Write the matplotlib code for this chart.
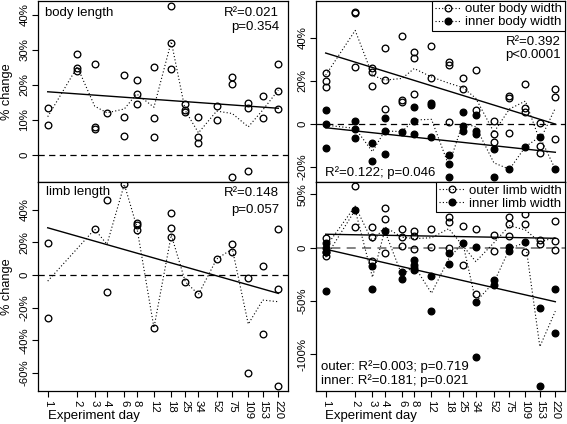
import numpy as np
import matplotlib.pyplot as plt

plt.rcParams['font.family'] = ['Liberation Sans', 'DejaVu Sans']
plt.rcParams['font.size'] = 9.5
plt.rcParams['xtick.labelsize'] = 8.2
plt.rcParams['ytick.labelsize'] = 8.2

days = [1, 2, 3, 4, 6, 8, 12, 18, 25, 34, 52, 75, 109, 153, 220]

# body length
bl_day = [1, 1, 2, 2, 2, 3, 3, 3, 4, 6, 6, 6, 8, 8, 8, 12, 12, 12, 18, 18, 18,
          25, 25, 25, 34, 34, 34, 52, 52, 75, 75, 75, 109, 109, 109, 153, 153,
          220, 220, 220]
bl_val = [13.5, 8.5, 28.9, 24.8, 23.9, 26.0, 8.0, 7.4, 12.0, 22.9, 10.7, 5.5,
          21.3, 17.4, 14.4, 25.1, 10.4, 5.0, 42.3, 32.0, 24.6, 14.4, 12.8, 12.1,
          10.7, 5.0, 3.5, 13.9, 9.9, 22.2, 20.1, -6.2, 14.7, 13.5, -4.5, 16.9,
          10.4, 26.0, 18.3, 13.2]
bl_mean_day = days
bl_mean = [10.9, 25.1, 13.9, 12.0, 13.1, 17.4, 13.6, 32.3, 12.6, 6.3, 12.5,
           11.8, 8.0, 12.8, 18.5]
bl_fit = [18.0, 13.3]

# limb length
ll_day = [1, 1, 3, 4, 4, 6, 8, 8, 8, 12, 18, 18, 18, 25, 34, 52, 75, 75,
          109, 109, 153, 153, 220, 220, 220]
ll_val = [19.4, -26.5, 28.0, 45.9, -10.2, 55.5, 32.0, 30.6, 27.5, -32.2, 37.7,
          28.9, 23.4, -4.1, -11.8, 9.8, 18.8, 14.3, -2.0, -59.7, 5.5, -36.3,
          28.0, -8.6, -67.9]
ll_mean_day = [1, 3, 4, 6, 8, 12, 18, 25, 34, 52, 75, 109, 153, 220]
ll_mean = [-3.7, 28.0, 18.8, 55.5, 30.0, -32.2, 24.5, -4.1, -11.8, 9.8, 16.0,
           -30.0, -15.3, -16.3]
ll_fit = [28.9, -11.2]

# outer / inner body width
obw_day = [1, 1, 1, 2, 2, 2, 3, 3, 3, 4, 4, 4, 6, 6, 6, 8, 8, 8, 12, 12, 18,
           18, 18, 25, 25, 34, 34, 52, 52, 52, 75, 75, 75, 109, 109, 109, 153,
           153, 153, 220, 220, 220]
obw_val = [23.5, 19.9, 17.0, 52.0, 51.6, 26.5, 26.2, 24.2, 17.6, 35.3, 20.4,
           6.8, 40.9, 11.4, 10.3, 33.5, 30.9, 13.9, 36.1, 21.6, 28.8, 27.3, 0.8,
           21.4, 16.5, 25.0, 6.5, 1.5, -4.8, -8.2, 13.0, 12.2, -4.3, 18.8, 7.5,
           5.7, 0.6, -10.2, -13.6, 16.5, 12.6, -6.9]
obw_mean = [22.7, 43.5, 22.7, 20.4, 21.2, 25.8, 21.9, 19.0, 17.0, 12.0, -3.8,
            7.0, 10.7, -7.7, 7.4]
obw_fit = [33.0, 0.0]

ibw_day = [1, 1, 1, 2, 2, 2, 3, 3, 4, 4, 4, 6, 8, 8, 8, 12, 12, 12, 18, 18, 18,
           25, 25, 25, 34, 34, 34, 52, 52, 75, 109, 153, 220]
ibw_val = [6.5, 0.0, -11.3, 1.5, -2.3, -6.6, -8.9, -17.1, 2.6, -3.2, -13.9,
           -3.5, 8.0, 1.4, -4.6, 9.9, 9.0, -5.9, -14.4, -18.7, -24.4, 5.4, -0.9,
           -3.2, 4.2, -3.2, -4.8, -11.7, -24.4, -21.0, -10.5, -5.9, -21.0]
ibw_mean = [-0.5, -2.0, -12.8, -3.2, -3.5, 1.9, 2.2, -19.2, 0.4, -1.3, -18.0,
            -21.0, -10.5, -5.9, -21.0]
ibw_fit = [-1.7, -13.1]

# outer / inner limb width
olw_day = [1, 1, 2, 2, 3, 3, 3, 4, 4, 4, 6, 6, 6, 8, 8, 8, 12, 12, 18, 18, 18,
           25, 25, 34, 34, 52, 52, 75, 75, 75, 109, 109, 109, 153, 153,
           220, 220, 220]
olw_val = [8.8, -7.8, 58.0, 19.7, 19.7, 9.8, -12.5, 37.0, 27.0, -5.3, 17.6, 9.8,
           1.9, 16.0, 11.0, -1.5, 17.6, 0.9, 29.1, 24.4, 0.0, 20.4, -16.3, 17.3,
           -43.5, 11.9, -2.8, 29.1, 22.0, 11.0, 31.4, 22.3, -3.8, 7.2, 3.2,
           25.1, 6.3, -2.2]
olw_mean = [0.5, 39.0, 5.7, 19.6, 9.8, 8.5, 9.3, 17.8, 2.0, -13.1, 4.6, 20.7,
            16.6, 5.2, 9.7]
olw_fit = [12.6, 8.8]

ilw_day = [1, 1, 1, 1, 1, 2, 3, 3, 4, 6, 6, 8, 8, 8, 8, 12, 12, 18, 18, 25,
           34, 34, 34, 52, 52, 75, 75, 109, 153, 153, 220, 220]
ilw_val = [4.1, -0.6, -4.3, -40.4, -3.8, 35.4, -16.9, -38.8, 16.0, -22.6, -29.4,
           -11.6, -16.3, -19.4, -21.0, -26.3, -59.2, -5.3, -15.6, 4.7, 0.9,
           -50.8, -102.4, -30.0, -35.1, 0.9, -3.1, 5.1, -56.4, -129.7, -38.8,
           -80.5]
ilw_mean = [-9.0, 35.4, -27.8, 16.0, -26.0, -17.1, -42.8, -10.5, 4.7, -50.8,
            -32.6, -1.1, 5.1, -93.0, -59.7]
ilw_fit = [-1.5, -50.8]

XLIM = (0.806, 273)
DASH = (0, (5, 3.5))


def setup(ax, ylim, ticks, labels, bottom, zcol='black', zlw=0.9):
    ax.set_xscale('log')
    ax.set_xlim(*XLIM)
    ax.set_ylim(*ylim)
    ax.set_yticks(ticks)
    ax.set_yticklabels(labels, rotation=90, va='center')
    ax.minorticks_off()
    ax.axhline(0, color=zcol, lw=zlw, ls=DASH, zorder=1)
    if bottom:
        ax.set_xticks(days)
        ax.set_xticklabels([str(d) for d in days], rotation=270, va='top')
        ax.minorticks_off()
    else:
        ax.set_xticks([])
    ax.tick_params(direction='out', length=4.5, width=0.8, pad=2)
    for s in ax.spines.values():
        s.set_linewidth(0.9)


def series(ax, d, v, md, mv, fit, filled):
    fc = 'black' if filled else 'none'
    ax.plot(d, v, 'o', ms=4.8, mfc=fc, mec='black', mew=0.95, ls='none', zorder=3)
    ax.plot(md, mv, color='black', lw=0.8, ls=(0, (1, 2)), zorder=2)
    ax.plot([days[0], days[-1]], fit, color='black', lw=1.0, zorder=2)


def legend(ax, labels):
    h1, = ax.plot([], [], 'o', ms=4.8, mfc='none', mec='black', mew=0.95,
                  color='black', lw=0.8, ls=(0, (1, 2)))
    h2, = ax.plot([], [], 'o', ms=4.8, mfc='black', mec='black',
                  color='black', lw=0.8, ls=(0, (1, 2)))
    leg = ax.legend([h1, h2], labels, loc='upper right', borderaxespad=0,
                    fancybox=False, edgecolor='black', framealpha=1,
                    handlelength=2.0, handletextpad=0.3, borderpad=0.2,
                    labelspacing=0.05, numpoints=1)
    leg.get_frame().set_linewidth(0.8)


fig = plt.figure(figsize=(5.67, 4.24), dpi=100)
axL1 = fig.add_axes([0.0679, 0.5708, 0.4392, 0.4280])
axR1 = fig.add_axes([0.5582, 0.5708, 0.4374, 0.4280])
axL2 = fig.add_axes([0.0679, 0.0778, 0.4392, 0.4930])
axR2 = fig.add_axes([0.5582, 0.0778, 0.4374, 0.4930])

# body length
setup(axL1, (-7.7, 44.0), [0, 10, 20, 30, 40], ['0', '10%', '20%', '30%', '40%'], False)
series(axL1, bl_day, bl_val, bl_mean_day, bl_mean, bl_fit, False)
axL1.set_ylabel('% change', fontsize=9.2)
axL1.yaxis.set_label_coords(-0.104, 0.5)
axL1.text(0.025, 0.93, 'body length', transform=axL1.transAxes, va='center')
axL1.text(0.965, 0.93, 'R²=0.021', transform=axL1.transAxes, va='center', ha='right')
axL1.text(0.965, 0.853, 'p=0.354', transform=axL1.transAxes, va='center', ha='right')

# limb length
setup(axL2, (-70.9, 56.9), [-60, -40, -20, 0, 20, 40],
      ['-60%', '-40%', '-20%', '0', '20%', '40%'], True)
series(axL2, ll_day, ll_val, ll_mean_day, ll_mean, ll_fit, False)
axL2.set_ylabel('% change', fontsize=9.2)
axL2.yaxis.set_label_coords(-0.104, 0.5)
axL2.text(0.03, 0.95, 'limb length', transform=axL2.transAxes, va='center')
axL2.text(0.965, 0.945, 'R²=0.148', transform=axL2.transAxes, va='center', ha='right')
axL2.text(0.965, 0.865, 'p=0.057', transform=axL2.transAxes, va='center', ha='right')
axL2.text(0.04, -0.12, 'Experiment day', transform=axL2.transAxes, va='center')

# body width
setup(axR1, (-26.9, 57.4), [-20, 0, 20, 40], ['-20%', '0', '20%', '40%'], False)
series(axR1, obw_day, obw_val, days, obw_mean, obw_fit, False)
series(axR1, ibw_day, ibw_val, days, ibw_mean, ibw_fit, True)
legend(axR1, ['outer body width', 'inner body width'])
axR1.text(0.985, 0.77, 'R²=0.392', transform=axR1.transAxes, va='center', ha='right')
axR1.text(0.985, 0.70, 'p<0.0001', transform=axR1.transAxes, va='center', ha='right')
axR1.text(0.035, 0.05, 'R²=0.122; p=0.046', transform=axR1.transAxes, va='center')

# limb width
setup(axR2, (-134.7, 61.7), [-100, -50, 0, 50], ['-100%', '-50%', '0', '50%'], True,
      zcol='#7a7a7a', zlw=1.3)
series(axR2, olw_day, olw_val, days, olw_mean, olw_fit, False)
series(axR2, ilw_day, ilw_val, days, ilw_mean, ilw_fit, True)
legend(axR2, ['outer limb width', 'inner limb width'])
axR2.text(0.02, 0.119, 'outer: R²=0.003; p=0.719', transform=axR2.transAxes, va='center')
axR2.text(0.02, 0.048, 'inner: R²=0.181; p=0.021', transform=axR2.transAxes, va='center')
axR2.text(0.035, -0.12, 'Experiment day', transform=axR2.transAxes, va='center')

fig.savefig('out.png', dpi=100)
